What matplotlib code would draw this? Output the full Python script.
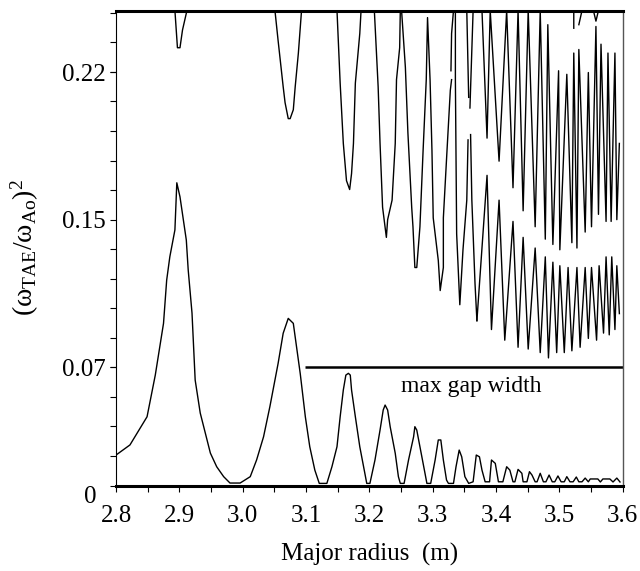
import numpy as np
import matplotlib
matplotlib.use('Agg')
import matplotlib.pyplot as plt
from matplotlib.ticker import MultipleLocator, FormatStrFormatter
import matplotlib.transforms as mtransforms

plt.rcParams['font.family'] = 'Liberation Serif'
plt.rcParams['mathtext.fontset'] = 'custom'
plt.rcParams['mathtext.rm'] = 'Liberation Serif'
plt.rcParams['mathtext.it'] = 'Liberation Serif:italic'

nan = np.nan

# lower continuum (gap bottom)
lower_r = [2.800, 2.822, 2.849, 2.862, 2.875, 2.880, 2.885, 2.893, 2.896, 2.901,
           2.911, 2.914, 2.920, 2.925, 2.933, 2.941, 2.949, 2.959, 2.970, 2.980,
           2.996, 3.012, 3.022, 3.033, 3.043, 3.056, 3.064, 3.072, 3.080, 3.091,
           3.099, 3.106, 3.114, 3.121, 3.133, 3.141, 3.149, 3.154, 3.159, 3.163,
           3.167, 3.170, 3.172, 3.178, 3.185, 3.193, 3.196, 3.201, 3.209, 3.217,
           3.222, 3.225, 3.229, 3.233, 3.241, 3.246, 3.249, 3.255, 3.262, 3.270,
           3.272, 3.275, 3.280, 3.288, 3.291, 3.297, 3.304, 3.309, 3.313, 3.317,
           3.322, 3.325, 3.333, 3.337, 3.342, 3.346, 3.351, 3.357, 3.364, 3.369,
           3.374, 3.378, 3.383, 3.390, 3.393, 3.399, 3.404, 3.411, 3.417, 3.422,
           3.427, 3.430, 3.435, 3.441, 3.443, 3.449, 3.453, 3.457, 3.462, 3.465,
           3.470, 3.475, 3.479, 3.484, 3.489, 3.493, 3.498, 3.503, 3.508, 3.512,
           3.517, 3.522, 3.527, 3.531, 3.536, 3.541, 3.546, 3.549, 3.561, 3.565,
           3.569, 3.580, 3.585, 3.591, 3.596]
lower_w2 = [0.0172, 0.0229, 0.0388, 0.0623, 0.0915, 0.1159, 0.1291, 0.1442, 0.1708, 0.1629,
            0.1385, 0.1216, 0.0973, 0.0595, 0.0409, 0.0296, 0.0183, 0.0106, 0.0050, 0.0014,
            0.0014, 0.0050, 0.0144, 0.0275, 0.0445, 0.0689, 0.0859, 0.0943, 0.0915, 0.0630,
            0.0388, 0.0219, 0.0087, 0.0012, 0.0012, 0.0106, 0.0219, 0.0388, 0.0539, 0.0623,
            0.0633, 0.0623, 0.0539, 0.0388, 0.0219, 0.0069, 0.0012, 0.0012, 0.0144, 0.0313,
            0.0426, 0.0454, 0.0426, 0.0332, 0.0182, 0.0050, 0.0012, 0.0012, 0.0144, 0.0275,
            0.0332, 0.0313, 0.0219, 0.0069, 0.0012, 0.0012, 0.0144, 0.0257, 0.0257, 0.0144,
            0.0031, 0.0012, 0.0012, 0.0106, 0.0200, 0.0162, 0.0050, 0.0012, 0.0021, 0.0172,
            0.0162, 0.0087, 0.0021, 0.0021, 0.0144, 0.0125, 0.0021, 0.0021, 0.0106, 0.0087,
            0.0021, 0.0021, 0.0091, 0.0069, 0.0021, 0.0021, 0.0078, 0.0059, 0.0021, 0.0021,
            0.0069, 0.0021, 0.0021, 0.0059, 0.0021, 0.0021, 0.0054, 0.0021, 0.0021, 0.0050,
            0.0021, 0.0021, 0.0048, 0.0021, 0.0021, 0.0042, 0.0021, 0.0037, 0.0037, 0.0020,
            0.0037, 0.0037, 0.0020, 0.0042, 0.0020]

# upper continuum spikes hanging from the top (nan = break in the curve)
upper_r = [2.893, 2.897, 2.901, 2.905, 2.912, nan,
           3.051, 3.056, 3.064, 3.067, 3.072, 3.075, 3.080, 3.083, 3.088, 3.093, nan,
           3.149, 3.154, 3.159, 3.164, 3.169, 3.172, 3.175, 3.178, 3.185, 3.187, nan,
           3.208, 3.214, 3.217, 3.221, 3.227, 3.229, 3.236, 3.241, 3.243, 3.248,
           3.249, 3.251, 3.257, 3.261, 3.267, 3.269, 3.272, 3.275, 3.280, 3.285,
           3.290, 3.292, 3.296, 3.299, 3.301, 3.309, 3.312, 3.317, 3.317, 3.322,
           3.328, 3.330, nan,
           3.329, 3.330, 3.333, nan,
           3.336, 3.336, 3.338, 3.343, 3.348, 3.354, 3.356, nan,
           3.357, 3.354, nan,
           3.364, 3.359, nan,
           3.360, 3.362, 3.367, 3.370, nan,
           3.523, 3.523, nan, 3.536, 3.531, nan, 3.554, 3.558, 3.562]
upper_w2 = [0.268, 0.247, 0.247, 0.257, 0.268, nan,
            0.268, 0.251, 0.225, 0.216, 0.207, 0.207, 0.212, 0.225, 0.244, 0.268, nan,
            0.268, 0.227, 0.193, 0.172, 0.167, 0.176, 0.193, 0.227, 0.255, 0.268, nan,
            0.268, 0.225, 0.193, 0.157, 0.140, 0.150, 0.161, 0.193, 0.229, 0.247,
            0.268, 0.268, 0.236, 0.199, 0.157, 0.146, 0.123, 0.123, 0.146, 0.189,
            0.229, 0.264, 0.229, 0.189, 0.151, 0.127, 0.110, 0.123, 0.151, 0.184,
            0.223, 0.229, nan,
            0.234, 0.255, 0.268, nan,
            0.268, 0.229, 0.142, 0.102, 0.133, 0.161, 0.195, nan,
            0.219, 0.268, nan,
            0.268, 0.213, nan,
            0.198, 0.161, 0.114, 0.093, nan,
            0.268, 0.258, nan, 0.268, 0.260, nan, 0.268, 0.262, 0.268]

# dense region: upper band (from the top) and lower band
band_hi_r = [3.378, 3.386, 3.391, 3.405, 3.417, 3.427, 3.435, 3.443, 3.451, 3.462,
             3.470, 3.478, 3.482, 3.490, 3.499, 3.501, 3.512, 3.520, 3.523, 3.528,
             3.531, 3.541, 3.546, 3.551, 3.558, 3.562, 3.566, 3.574, 3.577, 3.582,
             3.588, 3.591, 3.595]
band_hi_w2 = [0.268, 0.196, 0.268, 0.183, 0.268, 0.168, 0.268, 0.155, 0.268, 0.146,
              0.268, 0.139, 0.260, 0.136, 0.234, 0.133, 0.232, 0.137, 0.244, 0.134,
              0.246, 0.143, 0.233, 0.146, 0.259, 0.153, 0.249, 0.149, 0.244, 0.149,
              0.244, 0.150, 0.193]
band_lo_r = [3.370, 3.386, 3.393, 3.405, 3.414, 3.427, 3.435, 3.443, 3.451, 3.462,
             3.470, 3.478, 3.483, 3.490, 3.496, 3.501, 3.508, 3.514, 3.520, 3.528,
             3.533, 3.541, 3.546, 3.551, 3.559, 3.563, 3.570, 3.574, 3.579, 3.583,
             3.588, 3.591, 3.595]
band_lo_w2 = [0.093, 0.175, 0.088, 0.161, 0.082, 0.149, 0.078, 0.140, 0.077, 0.134,
              0.075, 0.129, 0.072, 0.126, 0.075, 0.124, 0.075, 0.123, 0.076, 0.123,
              0.078, 0.123, 0.083, 0.123, 0.082, 0.124, 0.086, 0.129, 0.085, 0.129,
              0.088, 0.124, 0.097]

gap_r = [3.098, 3.600]
gap_w2 = [0.0667, 0.0667]

# the y axis of the original is not evenly labelled
ytick_pos = [0, 0.0667, 0.15, 0.2333]
ytick_lab = ['0', '0.07', '0.15', '0.22']

fig = plt.figure(figsize=(6.4, 5.71), dpi=100)
ax = fig.add_axes([0.1813, 0.1497, 0.7914, 0.8319])

ax.plot(lower_r, lower_w2, color='black', lw=1.0)
ax.plot(upper_r, upper_w2, color='black', lw=1.0)
ax.plot(band_hi_r, band_hi_w2, color='black', lw=1.0)
ax.plot(band_lo_r, band_lo_w2, color='black', lw=1.0)
ax.plot(gap_r, gap_w2, color='black', lw=1.8, solid_capstyle='butt')
ax.text(3.361, 0.0556, 'max gap width', fontsize=17, ha='center', va='center')

ax.set_xlim(2.8, 3.6)
ax.set_ylim(0, 0.268)
ax.xaxis.set_major_locator(MultipleLocator(0.1))
ax.xaxis.set_minor_locator(MultipleLocator(0.05))
ax.xaxis.set_major_formatter(FormatStrFormatter('%.1f'))
ax.set_yticks(ytick_pos, ytick_lab)
ax.yaxis.set_minor_locator(MultipleLocator(1 / 60))

ax.tick_params(which='both', direction='out', length=4.3, width=0.8, labelsize=18)
ax.tick_params(axis='x', pad=10)
ax.tick_params(axis='y', pad=3)

for s in ['top', 'bottom']:
    ax.spines[s].set_linewidth(2.2)
ax.spines['left'].set_linewidth(0.8)
ax.spines['right'].set_linewidth(1.0)
ax.spines['right'].set_color('#555555')

ax.set_xlabel('Major radius  (m)', fontsize=18)
ax.xaxis.set_label_coords(0.5, -0.12)
ax.set_ylabel(r'$\mathrm{(ω_{TAE}/ω_{Ao})^2}$', fontsize=20)
ax.yaxis.set_label_coords(-0.148, 0.5)

# the "0" label sits a bit lower and further left in the original
lab0 = ax.yaxis.get_major_ticks()[0].label1
lab0.set_transform(lab0.get_transform() +
                   mtransforms.ScaledTranslation(-0.09, -0.085, fig.dpi_scale_trans))

fig.savefig('out.png', dpi=100)
